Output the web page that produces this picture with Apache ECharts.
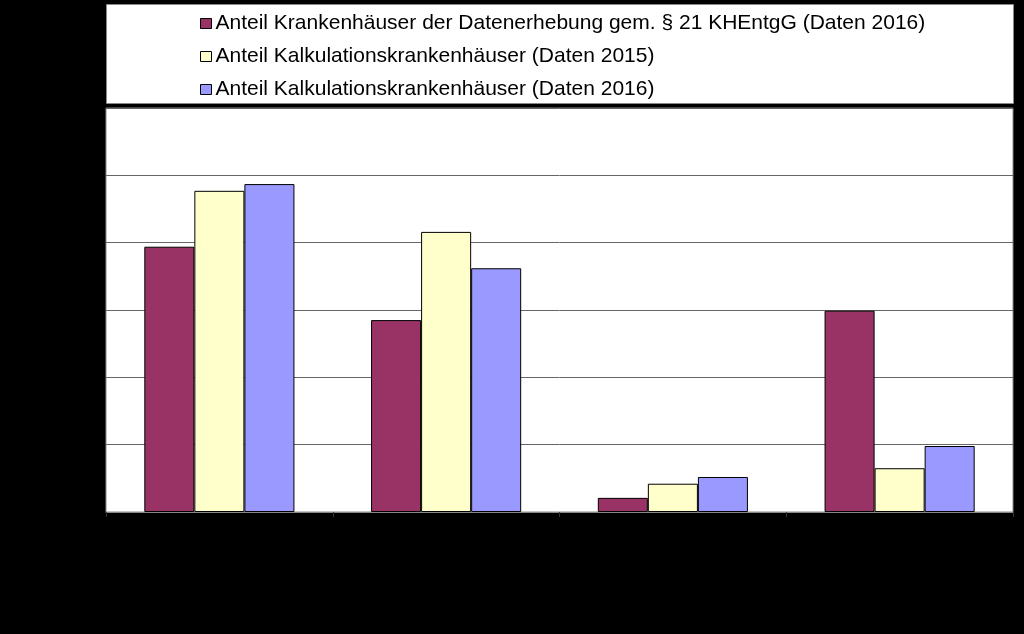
<!DOCTYPE html>
<html><head><meta charset="utf-8">
<script src="https://cdn.jsdelivr.net/npm/echarts@6/dist/echarts.min.js"></script>
<style>html,body{margin:0;padding:0;background:#000;}#c{width:1024px;height:634px;}</style>
</head><body><div id="c"></div>
<script>
const categories = ["Gruppe 1", "Gruppe 2", "Gruppe 3", "Gruppe 4"];
const seriesNames = [
  "Anteil Krankenhäuser der Datenerhebung gem. § 21 KHEntgG (Daten 2016)",
  "Anteil Kalkulationskrankenhäuser (Daten 2015)",
  "Anteil Kalkulationskrankenhäuser (Daten 2016)"
];
const datenerhebung2016 = [39.4, 28.5, 2.1, 29.9];
const kalkulation2015 = [47.7, 41.6, 4.2, 6.5];
const kalkulation2016 = [48.7, 36.2, 5.2, 9.8];
const yTicks = [0, 10, 20, 30, 40, 50, 60];
const colors = ["#993366", "#FFFFCC", "#9999FF"];

const chart = echarts.init(document.getElementById('c'));
const data = [datenerhebung2016, kalkulation2015, kalkulation2016];
chart.setOption({
  backgroundColor: '#000',
  animation: false,
  graphic: [{
    type: 'rect', left: 106, top: 4, shape: {width: 907, height: 99},
    style: {fill: '#fff', stroke: '#888', lineWidth: 1}, z: 0
  }],
  legend: {
    orient: 'vertical', left: 195, top: 8, itemGap: 12, padding: 5,
    itemWidth: 11, itemHeight: 10, icon: 'rect',
    textStyle: {fontFamily: '"Liberation Sans", Arial, sans-serif', fontSize: 21, lineHeight: 21, color: '#000', padding: [0,0,0,-1]},
    itemStyle: {borderColor: '#000', borderWidth: 1},
    data: seriesNames, z: 5
  },
  grid: {
    left: 106, right: 11, top: 108, bottom: 122, show: true,
    backgroundColor: '#fff', borderColor: '#888', borderWidth: 1
  },
  xAxis: {
    type: 'category', data: categories,
    axisLine: {lineStyle: {color: '#888'}},
    axisTick: {show: true, lineStyle: {color: '#333'}},
    axisLabel: {show: false}
  },
  yAxis: {
    type: 'value', min: yTicks[0], max: yTicks[yTicks.length-1], interval: 10,
    axisLine: {show: false}, axisTick: {show: false}, axisLabel: {show: false},
    splitLine: {lineStyle: {color: '#666', width: 1}}
  },
  series: seriesNames.map((n, i) => ({
    name: n, type: 'bar', data: data[i],
    barGap: '0%', barCategoryGap: '33.8%',
    itemStyle: {color: colors[i], borderColor: '#000', borderWidth: 1}
  }))
});
</script></body></html>
